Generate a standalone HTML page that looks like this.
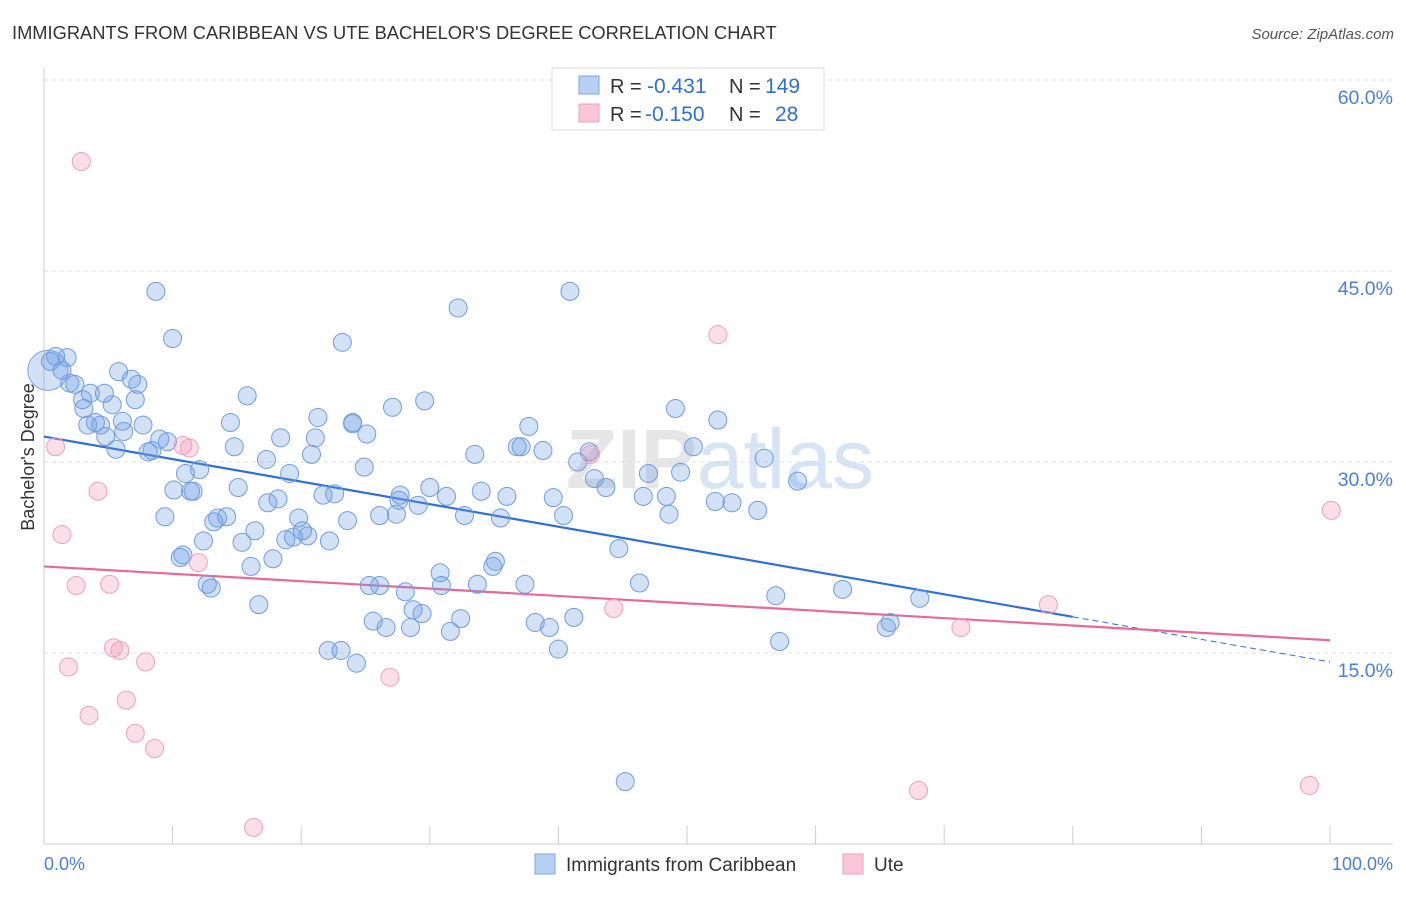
<!DOCTYPE html>
<html><head><meta charset="utf-8"><style>
body{margin:0;background:#fff;font-family:"Liberation Sans",sans-serif;}
</style></head><body>
<svg width="1406" height="892" xmlns="http://www.w3.org/2000/svg" font-family="Liberation Sans, sans-serif">
<text x="12" y="39" font-size="18.3" fill="#333">IMMIGRANTS FROM CARIBBEAN VS UTE BACHELOR'S DEGREE CORRELATION CHART</text>
<text x="1394" y="39" font-size="15" fill="#555" font-style="italic" text-anchor="end">Source: ZipAtlas.com</text>
<text x="720" y="488" font-size="84" fill="#e6e6e6" text-anchor="middle" font-weight="bold">ZIP<tspan fill="#d6e4f5" font-weight="normal">atlas</tspan></text>
<g id="grid"></g>
<g id="axes"></g>
<g id="trend"></g>
<g id="pts"></g>
<text transform="translate(34,457) rotate(-90)" font-size="18" fill="#333" text-anchor="middle">Bachelor's Degree</text>
<g>
<rect x="552" y="68" width="272" height="62" fill="#fff" stroke="#ddd"/>
<rect x="579" y="76" width="20" height="18" fill="#b8d0f3" stroke="#7aa5e0"/>
<rect x="579" y="104" width="20" height="18" fill="#f8c6d6" stroke="#eea0ba"/>
<text y="93" font-size="20" fill="#333"><tspan x="610">R =</tspan><tspan x="647" fill="#2f6fd6" font-size="21">-0.431</tspan><tspan x="729">N =</tspan><tspan x="765" fill="#2f6fd6" font-size="21">149</tspan></text>
<text y="121" font-size="20" fill="#333"><tspan x="610">R =</tspan><tspan x="645" fill="#2f6fd6" font-size="21">-0.150</tspan><tspan x="729">N =</tspan><tspan x="775" fill="#2f6fd6" font-size="21">28</tspan></text>
</g>
<g>
<rect x="535" y="854" width="20" height="20" fill="#b8d0f3" stroke="#7aa5e0"/>
<text x="566" y="871" font-size="19" fill="#333">Immigrants from Caribbean</text>
<rect x="843" y="854" width="20" height="20" fill="#f8c6d6" stroke="#eea0ba"/>
<text x="874" y="871" font-size="19" fill="#333">Ute</text>
</g>
</svg>
<script>
const yTicks=[15,30,45,60];
const yTickLabels=["15.0%","30.0%","45.0%","60.0%"];
const xEndLabels=["0.0%","100.0%"];
const blueX=[0.5,0.9,1.8,1.4,2.4,2.0,3.0,3.1,3.6,4.0,3.4,4.4,4.7,5.3,5.8,5.6,4.8,6.2,6.1,6.8,7.3,7.1,7.7,8.1,8.4,8.7,9.0,9.4,9.6,10.0,10.1,10.6,10.8,11.0,11.4,11.6,12.1,12.4,12.7,13.0,13.2,13.5,14.2,14.5,14.8,15.1,15.4,15.8,16.1,16.4,16.7,17.3,17.4,17.8,18.2,18.4,18.8,19.1,19.4,19.8,20.1,20.5,20.8,21.1,21.3,21.7,22.2,22.6,22.1,23.1,23.2,23.6,24.0,24.0,24.3,24.9,25.1,25.3,25.6,26.1,26.1,26.6,27.1,27.4,27.6,27.7,28.1,28.5,28.7,29.1,29.4,29.6,30.0,30.8,30.9,31.3,31.6,32.2,32.4,32.7,33.5,33.7,34.0,34.9,35.1,35.5,36.0,36.8,37.1,37.4,37.7,38.2,38.8,39.3,39.6,40.0,40.4,40.9,41.2,41.5,42.4,42.8,43.7,44.7,45.2,46.3,46.6,47.0,48.4,48.6,49.1,49.5,50.5,52.2,52.4,53.5,55.5,56.0,56.9,57.2,58.6,62.1,65.5,65.8,68.1];
const blueY=[37.9,38.3,38.2,37.2,36.1,36.2,34.9,34.2,35.4,33.1,32.9,32.9,35.4,34.5,37.1,31.0,32.0,32.4,33.2,36.5,36.1,34.9,32.9,30.8,30.9,43.4,31.8,25.7,31.6,39.7,27.8,22.5,22.7,29.1,27.7,27.7,29.4,23.8,20.4,20.1,25.3,25.6,25.7,33.1,31.2,28.0,23.7,35.2,21.8,24.6,18.8,30.2,26.8,22.4,27.1,31.9,23.9,29.1,24.1,25.6,24.6,24.2,30.6,31.9,33.5,27.4,23.8,27.5,15.2,15.2,39.4,25.4,33.1,33.0,14.2,29.6,32.2,20.3,17.5,20.3,25.8,17.0,34.3,25.9,27.0,27.4,19.8,17.0,18.4,26.6,18.1,34.8,28.0,21.3,20.3,27.3,16.7,42.1,17.7,25.8,30.6,20.4,27.7,21.8,22.2,25.6,27.3,31.2,31.2,20.4,32.8,17.4,30.9,17.0,27.2,15.3,25.8,43.4,17.8,30.0,30.8,28.7,28.0,23.2,4.9,20.5,27.3,29.1,27.3,25.9,34.2,29.2,31.2,26.9,33.3,26.8,26.2,30.3,19.5,15.9,28.5,20.0,17.0,17.4,19.3];
const pinkX=[2.9,0.9,1.4,4.2,2.5,5.1,1.9,5.4,5.9,7.9,3.5,6.4,7.1,8.6,10.8,11.3,12.0,16.3,26.9,42.5,44.3,52.4,68.0,71.3,78.1,98.4,100.1];
const pinkY=[53.6,31.2,24.3,27.7,20.3,20.4,13.9,15.4,15.2,14.3,10.1,11.3,8.7,7.5,31.3,31.1,22.1,1.3,13.1,30.6,18.5,40.0,4.2,17.0,18.8,4.6,26.2];
const blueTrend=[32.0,14.3], pinkTrend=[21.8,16.0];
const NS="http://www.w3.org/2000/svg";
const X=v=>44+v*12.86, Y=v=>844-v*12.733;
function mk(tag,attrs,parent){const e=document.createElementNS(NS,tag);for(const k in attrs)e.setAttribute(k,attrs[k]);document.getElementById(parent).appendChild(e);return e;}
yTicks.forEach((t,i)=>{
 const l=mk('line',{x1:44,x2:1393,y1:Y(t),y2:Y(t),stroke:'#ddd','stroke-dasharray':'4,4'},'grid');
 
 
 const tx=mk('text',{x:1393,y:Y(t)+24,'font-size':19.5,fill:'#4a7fd8','text-anchor':'end'},'grid');
 tx.textContent=yTickLabels[i];
 
 
});
mk('line',{x1:44,x2:44,y1:68,y2:844,stroke:'#ccc'},'axes');
mk('line',{x1:44,x2:1393,y1:844,y2:844,stroke:'#ccc'},'axes');
for(let i=0;i<=10;i++){const t=mk('line',{x1:X(i*10),x2:X(i*10),y1:826,y2:844,stroke:'#ccc'},'axes');
 
 }
[[0,'start',44],[100,'end',1393]].forEach((d,i)=>{const t=mk('text',{x:d[2],y:870,'font-size':18,fill:'#4a7fd8','text-anchor':d[1]},'axes');t.textContent=xEndLabels[i];
 
 });
const by=x=>blueTrend[0]+(blueTrend[1]-blueTrend[0])*x/100;
const py=x=>pinkTrend[0]+(pinkTrend[1]-pinkTrend[0])*x/100;
let b=mk('line',{x1:X(0),y1:Y(by(0)),x2:X(80),y2:Y(by(80)),stroke:'#2f6fd6','stroke-width':2.2},'trend');


b=mk('line',{x1:X(80),y1:Y(by(80)),x2:X(100),y2:Y(by(100)),stroke:'#2f6fd6','stroke-width':1,'stroke-dasharray':'6,4'},'trend');


b=mk('line',{x1:X(0),y1:Y(py(0)),x2:X(100),y2:Y(py(100)),stroke:'#e8689a','stroke-width':2.2},'trend');


const big=mk('circle',{cx:X(0.3),cy:Y(37.2),r:20,fill:'rgba(110,155,230,0.3)',stroke:'#7aa5e0'},'pts');


blueX.forEach((x,i)=>{const c=mk('circle',{cx:X(x),cy:Y(blueY[i]),r:9,fill:'rgba(110,155,230,0.3)',stroke:'#6f9de0','stroke-width':1},'pts');
 
 });
pinkX.forEach((x,i)=>{const c=mk('circle',{cx:X(x),cy:Y(pinkY[i]),r:9,fill:'rgba(240,150,180,0.3)',stroke:'#eea0ba','stroke-width':1},'pts');
 
 });
</script>
</body></html>
